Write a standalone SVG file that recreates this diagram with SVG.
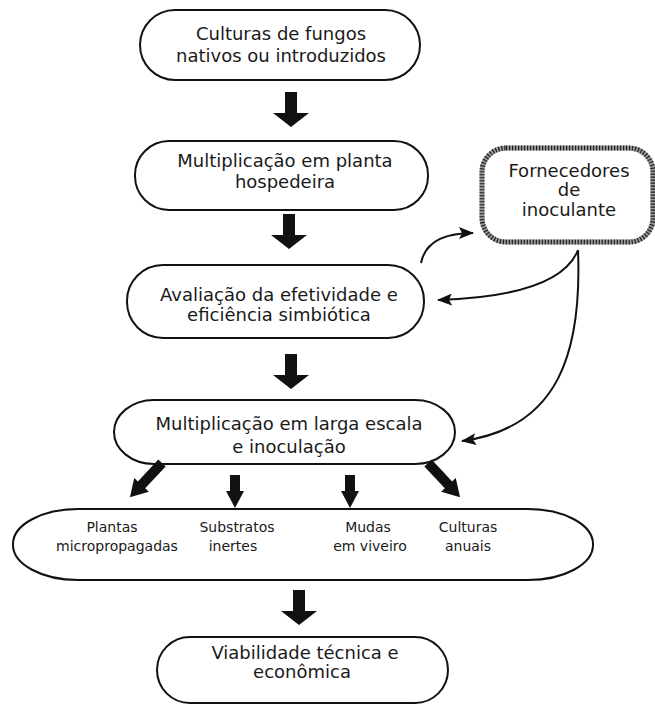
<svg xmlns="http://www.w3.org/2000/svg" width="655" height="704" viewBox="0 0 655 704">
<style>
.node{fill:#fff;stroke:#111;stroke-width:2}
.t{font-family:"DejaVu Sans","Liberation Sans",sans-serif;font-size:18px;fill:#1a1a1a;text-anchor:middle}
.s{font-size:14px}
.conn{fill:none;stroke:#111;stroke-width:2}
.big{fill:#111}
.hatchA{fill:#fff;stroke:#999;stroke-width:5}
.hatchB{fill:none;stroke:#222;stroke-width:5;stroke-dasharray:1.2 1.8}
</style>
<defs>
<marker id="ah" viewBox="0 0 15 12" refX="14" refY="6" markerWidth="15" markerHeight="12" markerUnits="userSpaceOnUse" orient="auto"><path d="M0,0 L15,6 L0,12 L3,6 Z" fill="#111"/></marker>
<path id="bigArrow" d="M-6,0 H6 V21 H18 L0,35 L-18,21 H-6 Z"/>
<path id="smallArrow" d="M-5,0 H5 V16 H9 L0,33 L-9,16 H-5 Z"/>
<path id="diagArrow" d="M-5,0 H5 V30 H10 L0,47 L-10,30 H-5 Z"/>
</defs>
<rect width="655" height="704" fill="#fff"/>

<g id="n1">
<rect class="node" x="140" y="10" width="280" height="70" rx="35"/>
<text class="t" x="281" y="40">Culturas de fungos</text>
<text class="t" x="281" y="62">nativos ou introduzidos</text>
</g>

<g id="n2">
<rect class="node" x="135" y="141" width="293" height="69" rx="34"/>
<text class="t" x="285" y="167">Multiplicação em planta</text>
<text class="t" x="285" y="188">hospedeira</text>
</g>

<g id="n3">
<rect class="node" x="127" y="265" width="297" height="73" rx="36"/>
<text class="t" x="279" y="301">Avaliação da efetividade e</text>
<text class="t" x="279" y="321">eficiência simbiótica</text>
</g>

<g id="n4">
<rect class="node" x="114" y="400" width="341" height="64" rx="40" ry="32"/>
<text class="t" x="289" y="430">Multiplicação em larga escala</text>
<text class="t" x="289" y="453">e inoculação</text>
</g>

<g id="nF">
<rect class="hatchA" x="482" y="148" width="171" height="94" rx="24"/>
<rect class="hatchB" x="482" y="148" width="171" height="94" rx="24"/>
<text class="t" x="569" y="177">Fornecedores</text>
<text class="t" x="569" y="196">de</text>
<text class="t" x="569" y="216">inoculante</text>
</g>

<g id="n5">
<rect class="node" x="13" y="509" width="580" height="71" rx="65" ry="35"/>
<text class="t s" x="112" y="532">Plantas</text>
<text class="t s" x="117" y="551">micropropagadas</text>
<text class="t s" x="237" y="532">Substratos</text>
<text class="t s" x="233" y="551">inertes</text>
<text class="t s" x="368" y="532">Mudas</text>
<text class="t s" x="370" y="551">em viveiro</text>
<text class="t s" x="468" y="532">Culturas</text>
<text class="t s" x="468" y="551">anuais</text>
</g>

<g id="n6">
<rect class="node" x="157" y="637" width="291" height="66" rx="33"/>
<text class="t" x="305" y="659">Viabilidade técnica e</text>
<text class="t" x="302" y="678">econômica</text>
</g>

<g id="connectors">
<use href="#bigArrow" class="big" transform="translate(291,92)"/>
<use href="#bigArrow" class="big" transform="translate(289,214)"/>
<use href="#bigArrow" class="big" transform="translate(291,354)"/>
<use href="#bigArrow" class="big" transform="translate(299,590)"/>
<use href="#diagArrow" class="big" transform="translate(162,463) rotate(43)"/>
<use href="#smallArrow" class="big" transform="translate(235,475)"/>
<use href="#smallArrow" class="big" transform="translate(350,475)"/>
<use href="#diagArrow" class="big" transform="translate(428,463) rotate(-43)"/>
<path class="conn" marker-end="url(#ah)" d="M421,263 Q427,233 473,233"/>
<path class="conn" marker-end="url(#ah)" d="M578,250 Q560,296 438,300"/>
<path class="conn" marker-end="url(#ah)" d="M578,250 C582,350 560,428 462,441"/>
</g>
</svg>
